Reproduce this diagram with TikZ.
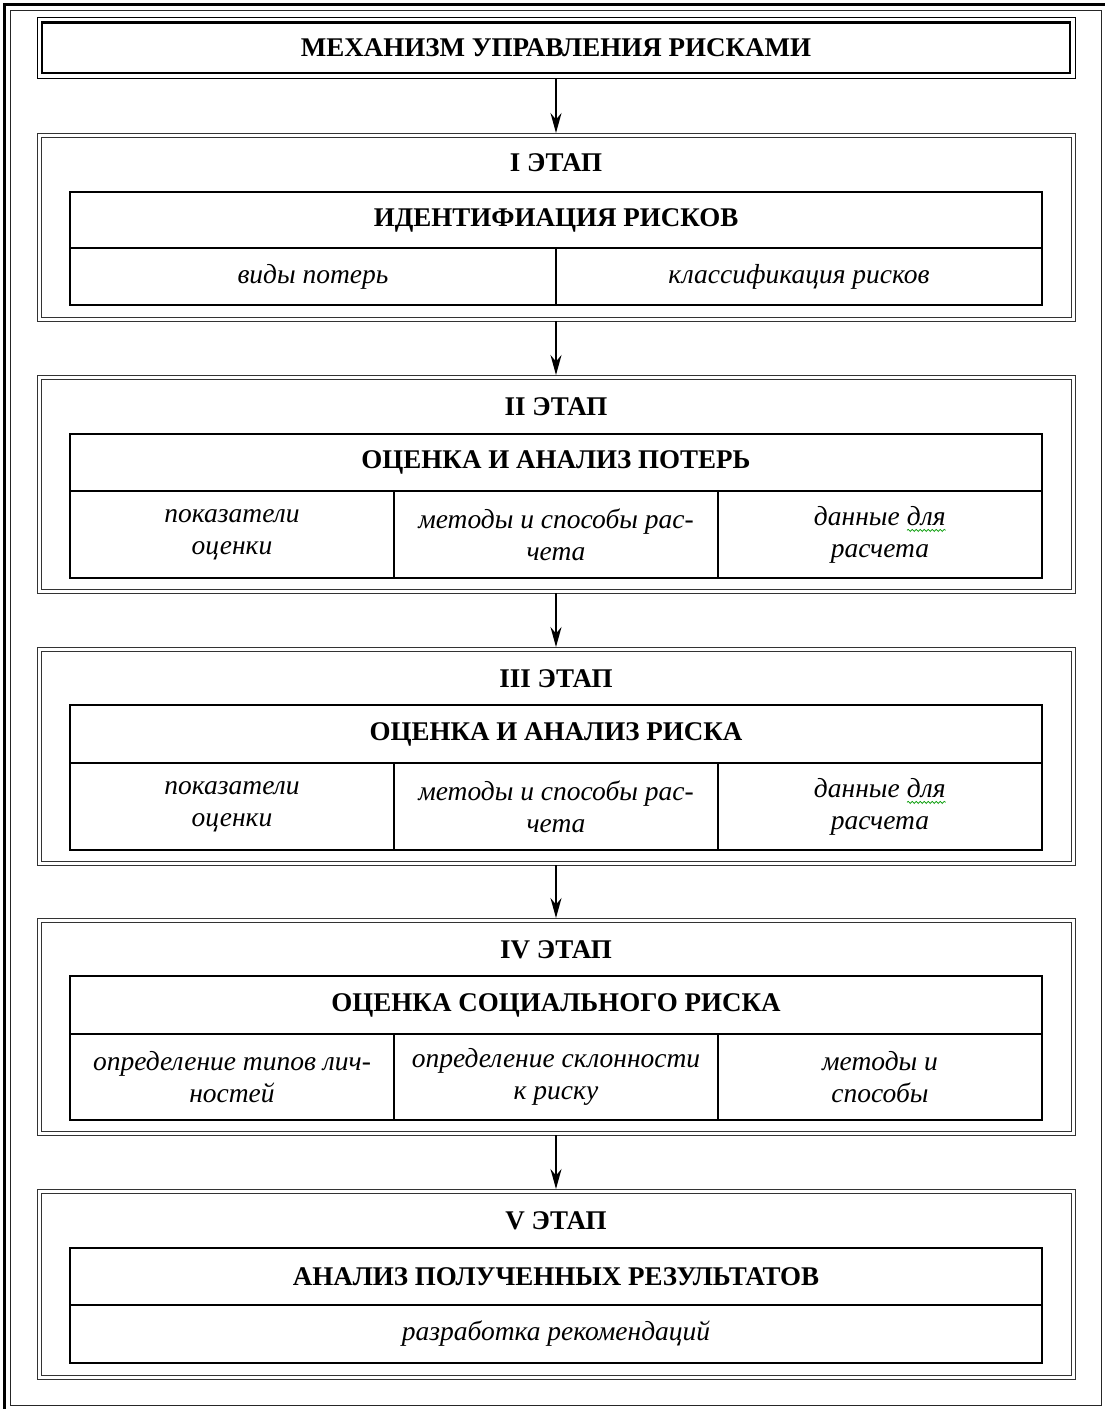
\documentclass[tikz,border=0pt]{standalone}
\usepackage{fontspec}
\setmainfont{Liberation Serif}
\usetikzlibrary{arrows.meta,decorations.pathmorphing}
\newcommand\wavyword[1]{\tikz[baseline=(w.base)]{\node[inner sep=0pt,outer sep=0pt,minimum width=0pt,minimum height=0pt,draw=none,align=left](w){#1};
  \draw[green!60!black,line width=0.7pt,decorate,decoration={snake,amplitude=1.1pt,segment length=4pt}]
  ([yshift=-5pt]w.south west) -- ([yshift=-5pt]w.south east);}}
\tikzset{
  stagebox/.style={draw=black!80,line width=0.9pt,inner sep=0pt,outer sep=0pt,minimum width=1038pt},
  stagein/.style={draw=black!80,line width=0.9pt,inner sep=0pt,outer sep=0pt,minimum width=1030pt},
  cell/.style={draw,line width=1.8pt,inner sep=0pt,outer sep=0pt,align=center},
  headtxt/.style={font=\fontsize{27}{30}\selectfont\bfseries},
  itemtxt/.style={font=\fontsize{27.5}{32}\selectfont\itshape},
  arr/.style={-{Stealth[length=20pt,width=11pt]},line width=1.8pt},
}
\begin{document}
\begin{tikzpicture}[x=1pt,y=-1pt]
\useasboundingbox (0,0) rectangle (1105,1409);
% outer frame
\draw[line width=0.9pt,draw=black!85] (10,10) rectangle (1101,1405);
\draw[line width=2.6pt] (4.5,1409) -- (4.5,4.5) -- (1105,4.5);
% title
\node[draw,line width=0.9pt,minimum width=1038pt,minimum height=61pt,inner sep=0pt] (titleout) at (556,47.5) {};
\node[draw,line width=2.6pt,minimum width=1028pt,minimum height=50.5pt,inner sep=0pt,headtxt] (title) at (556,47.75) {МЕХАНИЗМ УПРАВЛЕНИЯ РИСКАМИ};
% stage boxes (double lines)
\node[stagebox,minimum height=188pt] (s1) at (556,227) {};
\node[stagein,minimum height=180pt] (s1in) at (556,227) {};
\node[stagebox,minimum height=218pt] (s2) at (556,484) {};
\node[stagein,minimum height=210pt] (s2in) at (556,484) {};
\node[stagebox,minimum height=218pt] (s3) at (556,756) {};
\node[stagein,minimum height=210pt] (s3in) at (556,756) {};
\node[stagebox,minimum height=217pt] (s4) at (556,1026.5) {};
\node[stagein,minimum height=209pt] (s4in) at (556,1026.5) {};
\node[stagebox,minimum height=190pt] (s5) at (556,1284) {};
\node[stagein,minimum height=182pt] (s5in) at (556,1284) {};
% stage titles
\node[headtxt] (t1) at (556,163) {I ЭТАП};
\node[headtxt] (t2) at (556,407) {II ЭТАП};
\node[headtxt] (t3) at (556,679) {III ЭТАП};
\node[headtxt] (t4) at (556,950) {IV ЭТАП};
\node[headtxt] (t5) at (556,1221) {V ЭТАП};
% stage I
\node[cell,headtxt,minimum width=972pt,minimum height=56pt] (h1) at (556,220) {ИДЕНТИФИАЦИЯ РИСКОВ};
\node[cell,itemtxt,minimum width=486pt,minimum height=57pt] (i1a) at (313,276.5) {виды потерь};
\node[cell,itemtxt,minimum width=486pt,minimum height=57pt] (i1b) at (799,276.5) {классификация рисков};
% stage II
\node[cell,headtxt,minimum width=972pt,minimum height=57pt] (h2) at (556,462.5) {ОЦЕНКА И АНАЛИЗ ПОТЕРЬ};
\node[cell,itemtxt,minimum width=324pt,minimum height=87pt] (i2a) at (232,534.5) {показатели\\оценки};
\node[cell,itemtxt,minimum width=324pt,minimum height=87pt] (i2b) at (556,534.5) {методы и способы рас-\\чета};
\node[cell,itemtxt,minimum width=324pt,minimum height=87pt] (i2c) at (880,534.5) {данные \wavyword{для}\\расчета};
% stage III
\node[cell,headtxt,minimum width=972pt,minimum height=58pt] (h3) at (556,734) {ОЦЕНКА И АНАЛИЗ РИСКА};
\node[cell,itemtxt,minimum width=324pt,minimum height=87pt] (i3a) at (232,806.5) {показатели\\оценки};
\node[cell,itemtxt,minimum width=324pt,minimum height=87pt] (i3b) at (556,806.5) {методы и способы рас-\\чета};
\node[cell,itemtxt,minimum width=324pt,minimum height=87pt] (i3c) at (880,806.5) {данные \wavyword{для}\\расчета};
% stage IV
\node[cell,headtxt,minimum width=972pt,minimum height=58pt] (h4) at (556,1005) {ОЦЕНКА СОЦИАЛЬНОГО РИСКА};
\node[cell,itemtxt,minimum width=324pt,minimum height=86pt] (i4a) at (232,1077) {определение типов лич-\\ностей};
\node[cell,itemtxt,minimum width=324pt,minimum height=86pt] (i4b) at (556,1077) {определение склонности\\к риску};
\node[cell,itemtxt,minimum width=324pt,minimum height=86pt] (i4c) at (880,1077) {методы и\\способы};
% stage V
\node[cell,headtxt,minimum width=972pt,minimum height=57pt] (h5) at (556,1276.5) {АНАЛИЗ ПОЛУЧЕННЫХ РЕЗУЛЬТАТОВ};
\node[cell,itemtxt,minimum width=972pt,minimum height=58pt] (i5) at (556,1334) {разработка рекомендаций};
% arrows
\draw[arr] (titleout.south) -- (s1.north);
\draw[arr] (s1.south) -- (s2.north);
\draw[arr] (s2.south) -- (s3.north);
\draw[arr] (s3.south) -- (s4.north);
\draw[arr] (s4.south) -- (s5.north);
\end{tikzpicture}
\end{document}
